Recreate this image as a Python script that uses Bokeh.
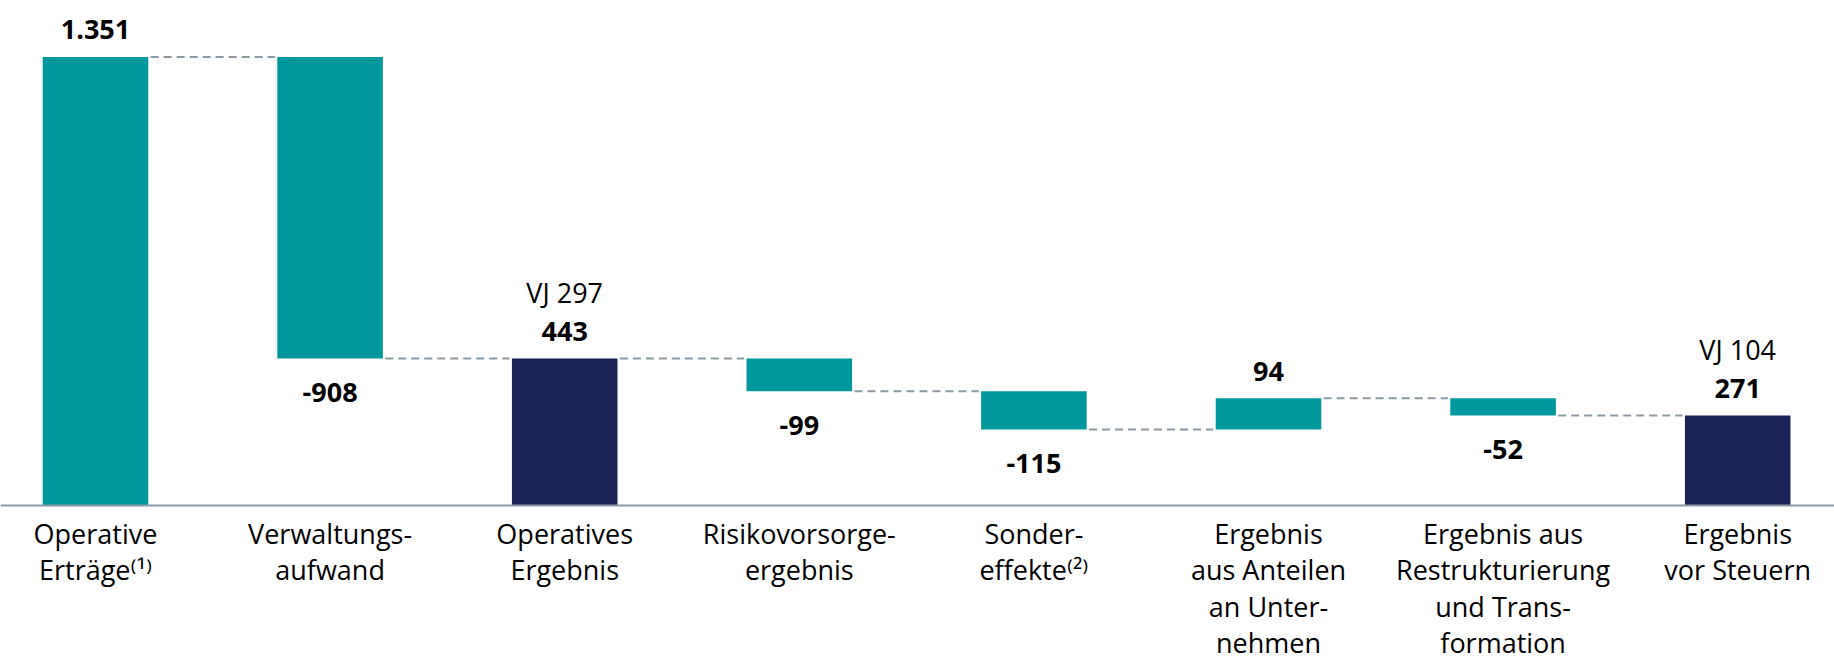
from bokeh.plotting import figure
from bokeh.models import Range1d, Span, ColumnDataSource
from bokeh.core.properties import value
from bokeh.embed import file_html
from bokeh.resources import INLINE

# ---- data ----
categories = [
    "Operative\nErträge⁽¹⁾",
    "Verwaltungs-\naufwand",
    "Operatives\nErgebnis",
    "Risikovorsorge-\nergebnis",
    "Sonder-\neffekte⁽²⁾",
    "Ergebnis\naus Anteilen\nan Unter-\nnehmen",
    "Ergebnis aus\nRestrukturierung\nund Trans-\nformation",
    "Ergebnis\nvor Steuern",
]
values = [1351, -908, 443, -99, -115, 94, -52, 271]
is_total = [False, False, True, False, False, False, False, True]
prev_year = [None, None, 297, None, None, None, None, 104]

TEAL = "#00989C"
NAVY = "#1B2256"
CONN = "#8A9BA5"
FONT = "Open Sans"

# ---- waterfall geometry from data ----
xs = list(range(len(categories)))
bottoms, tops, colors = [], [], []
running = 0
for v, tot in zip(values, is_total):
    if tot:
        b, t = 0, v
        running = v
    else:
        b, t = running, running + v
        running += v
    bottoms.append(min(b, t))
    tops.append(max(b, t))
    colors.append(NAVY if tot else TEAL)

levels = []
running = 0
for v, tot in zip(values, is_total):
    running = v if tot else running + v
    levels.append(running)

BW = 0.45

def fmt(v):
    return f"{v:,}".replace(",", ".")

W, H = 1834, 662
spacing = 234.6
x_start = -95 / spacing
x_end = x_start + W / spacing
ppu = 0.332
base_px = 505
y_end = base_px / ppu
y_start = -(H - base_px) / ppu

p = figure(width=W, height=H, output_backend="svg", toolbar_location=None,
           x_range=Range1d(x_start, x_end), y_range=Range1d(y_start, y_end),
           min_border=0, min_border_left=0, min_border_right=0,
           min_border_top=0, min_border_bottom=0, outline_line_color=None)
p.axis.visible = False
p.grid.visible = False
p.background_fill_color = "white"

# connectors
cx0 = [x + BW / 2 + 0.01 for x in xs[:-1]]
cx1 = [x + 1 - BW / 2 - 0.01 for x in xs[:-1]]
p.segment(x0=cx0, x1=cx1, y0=levels[:-1], y1=levels[:-1],
          line_color=CONN, line_width=2, line_dash="8 5")

# bars
src = ColumnDataSource(dict(x=xs, top=tops, bottom=bottoms, color=colors))
p.vbar(x="x", top="top", bottom="bottom", width=BW, fill_color="color",
       line_color=None, source=src)

# baseline
p.add_layout(Span(location=0, dimension="width", line_color=CONN, line_width=2))

# value labels
pos_x = [x for x, v in zip(xs, values) if v > 0]
pos_y = [t for t, v in zip(tops, values) if v > 0]
pos_t = [fmt(v) for v in values if v > 0]
neg_x = [x for x, v in zip(xs, values) if v < 0]
neg_y = [b for b, v in zip(bottoms, values) if v < 0]
neg_t = [fmt(v) for v in values if v < 0]

p.text(x=pos_x, y=pos_y, text=pos_t, text_font=value(FONT), text_font_style="bold",
       text_font_size="27px", text_align="center", text_baseline="middle",
       y_offset=-27, text_color="black")
p.text(x=neg_x, y=neg_y, text=neg_t, text_font=value(FONT), text_font_style="bold",
       text_font_size="27px", text_align="center", text_baseline="middle",
       y_offset=34, text_color="black")

# prior-year labels
vj_x = [x for x, py in zip(xs, prev_year) if py is not None]
vj_y = [t for t, py in zip(tops, prev_year) if py is not None]
vj_t = [f"VJ {py}" for py in prev_year if py is not None]
p.text(x=vj_x, y=vj_y, text=vj_t, text_font=value(FONT), text_font_size="27px",
       text_align="center", text_baseline="middle", y_offset=-66, text_color="black")

# category labels
p.text(x=xs, y=[0] * len(xs), text=categories, text_font=value(FONT),
       text_font_size="27px", text_align="center", text_baseline="top",
       text_line_height=0.99, y_offset=9, text_color="black")

open("out.html", "w").write(file_html(p, INLINE))
